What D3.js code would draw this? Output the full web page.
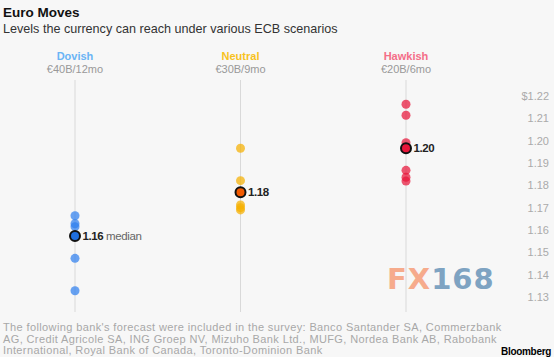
<!DOCTYPE html>
<html><head><meta charset="utf-8">
<script src="https://cdn.jsdelivr.net/npm/d3@7"></script>
<style>
html,body{margin:0;padding:0;background:#f7f7f7;}
svg{display:block;font-family:"Liberation Sans",Arial,sans-serif;}
</style></head>
<body><svg id="c" width="554" height="357"></svg>
<script>
const scenarios = ["Dovish", "Neutral", "Hawkish"];
const terms = ["€40B/12mo", "€30B/9mo", "€20B/6mo"];
const dovishForecasts = [1.1664, 1.1628, 1.1615, 1.1473, 1.1328];
const neutralForecasts = [1.1966, 1.1821, 1.1712, 1.1700, 1.1690];
const hawkishForecasts = [1.2163, 1.2114, 1.1991, 1.1867, 1.1836, 1.1819];
const medians = [1.1573, 1.1769, 1.1966];
const medianLabels = ["1.16", "1.18", "1.20"];
const tickValues = [1.13, 1.14, 1.15, 1.16, 1.17, 1.18, 1.19, 1.20, 1.21, 1.22];
const footnote = [
  "The following bank's forecast were included in the survey: Banco Santander SA, Commerzbank",
  "AG, Credit Agricole SA, ING Groep NV, Mizuho Bank Ltd., MUFG, Nordea Bank AB, Rabobank",
  "International, Royal Bank of Canada, Toronto-Dominion Bank"
];

const headColors = ["#6ab4f5", "#f7c21d", "#f46e88"];
const dotColors = ["#2f7fef", "#f5b000", "#e8163a"];
const medianFill = ["#1f6fe0", "#f25a00", "#e8163a"];
const series = [dovishForecasts, neutralForecasts, hawkishForecasts];

const svg = d3.select("#c");
const x = d3.scalePoint().domain(scenarios).range([75, 406]);
const y = d3.scaleLinear().domain([1.13, 1.22]).range([297, 96]);

// title
svg.append("text").attr("x", 3).attr("y", 17).attr("font-size", 13.5).attr("font-weight", "bold").attr("fill", "#111").text("Euro Moves");
svg.append("text").attr("x", 3).attr("y", 33).attr("font-size", 12.6).attr("fill", "#333").text("Levels the currency can reach under various ECB scenarios");

// axis
const axis = d3.axisLeft(y).tickValues(tickValues).tickSize(0).tickPadding(0)
  .tickFormat((d, i) => (i === tickValues.length - 1 ? "$" : "") + d3.format(".2f")(d));
const ga = svg.append("g").attr("transform", "translate(549,0)").call(axis);
ga.select(".domain").remove();
ga.selectAll("text").attr("font-size", 11).attr("fill", "#aaa").attr("font-family", "Liberation Sans, Arial, sans-serif");

// watermark
const wm = svg.append("text").attr("x", 387).attr("y", 289).attr("font-size", 29).attr("font-weight", "bold")
  .attr("font-family", "DejaVu Sans, sans-serif").attr("letter-spacing", 1);
wm.append("tspan").attr("fill", "#f6ab8c").text("FX");
wm.append("tspan").attr("fill", "#7ea3c2").text("168");

scenarios.forEach((s, i) => {
  const cx = x(s);
  svg.append("line").attr("x1", cx).attr("x2", cx).attr("y1", 80).attr("y2", 312)
    .attr("stroke", "#d9d9d9").attr("stroke-width", 1);
  svg.append("text").attr("x", cx).attr("y", 60).attr("text-anchor", "middle").attr("font-size", 11)
    .attr("font-weight", "bold").attr("fill", headColors[i]).text(s);
  svg.append("text").attr("x", cx).attr("y", 73).attr("text-anchor", "middle").attr("font-size", 11)
    .attr("fill", "#999").text(terms[i]);
  svg.append("g").selectAll("circle").data(series[i]).join("circle")
    .attr("cx", cx).attr("cy", d => y(d)).attr("r", 4.5)
    .attr("fill", dotColors[i]).attr("fill-opacity", 0.72);
  svg.append("circle").attr("cx", cx).attr("cy", y(medians[i])).attr("r", 5)
    .attr("fill", medianFill[i]).attr("stroke", "#111").attr("stroke-width", 2);
  const t = svg.append("text").attr("x", cx + 7.5).attr("y", y(medians[i]) + 4).attr("font-size", 11.5)
    .attr("letter-spacing", -0.4);
  t.append("tspan").attr("font-weight", "bold").attr("fill", "#222").text(medianLabels[i]);
  if (i === 0) t.append("tspan").attr("fill", "#666").text(" median");
});

// footnote
svg.append("g").selectAll("text").data(footnote).join("text")
  .attr("x", 3).attr("y", (d, i) => 331 + i * 11.5).attr("font-size", 11).attr("letter-spacing", 0.38)
  .attr("fill", "#a8a8a8").text(d => d);
svg.append("text").attr("x", 501).attr("y", 355).attr("font-size", 10).attr("font-weight", "bold")
  .attr("fill", "#000").attr("letter-spacing", -0.3).text("Bloomberg");
</script></body></html>
